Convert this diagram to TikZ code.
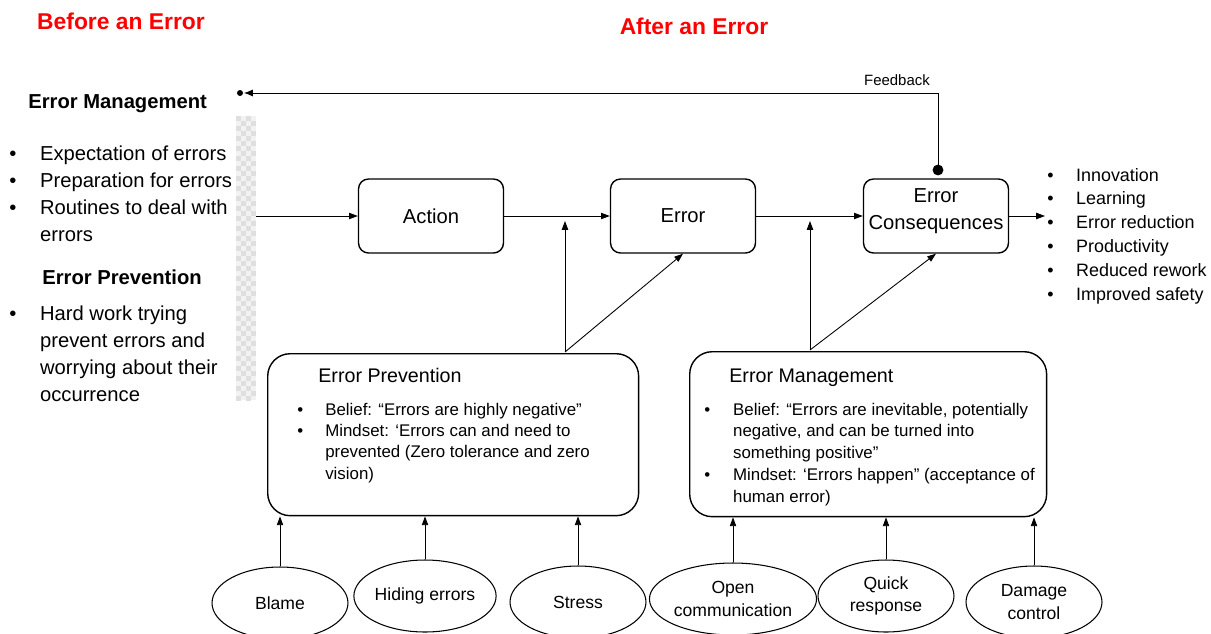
\documentclass[tikz,border=0pt]{standalone}
\usepackage{fontspec}
\setmainfont{Liberation Sans}
\usetikzlibrary{arrows.meta,shapes.geometric}
\begin{document}
\begin{tikzpicture}
  [x=0.02cm,y=-0.02cm,>={Triangle[length=5pt,width=3.6pt]},
   box/.style={draw,line width=0.8pt,rounded corners=0.2cm,minimum width=2.9cm,minimum height=1.48cm,inner sep=1pt,align=center,font=\fontsize{11.5}{15.3}\selectfont},
   bigbox/.style={draw,line width=0.8pt,rounded corners=0.45cm,anchor=north west,inner sep=0pt},
   cause/.style={ellipse,draw,line width=0.6pt,minimum width=2.72cm,minimum height=1.44cm,inner sep=0pt,align=center,font=\fontsize{10}{13}\selectfont},
   title/.style={font=\fontsize{13}{15}\selectfont\bfseries,text=red},
   head/.style={anchor=base west,inner sep=0pt,font=\fontsize{11.5}{15.3}\selectfont\bfseries},
   list/.style={anchor=base west,inner sep=0pt},
   link/.style={->,line width=0.5pt}]
  \useasboundingbox (0,0) rectangle (1211,633);
  % before / after
  \node[title,name=before] at (121,21) {Before an Error};
  \node[title,name=after] at (694,26) {After an Error};
  % left column
  \node[head,name=emhead] at (28,108) {Error Management};
  \node[list,name=emlist,font=\fontsize{11.5}{15.5}\selectfont] at (9,160) {\begin{tabular}[t]{@{}p{17.5pt}@{}l@{}}
    \textbullet & Expectation of errors\\
    \textbullet & Preparation for errors\\
    \textbullet & Routines to deal with\\
                & errors
  \end{tabular}};
  \node[head,name=ephead] at (42,284) {Error Prevention};
  \node[list,name=eplist,font=\fontsize{11.5}{15.5}\selectfont] at (9,320) {\begin{tabular}[t]{@{}p{17.5pt}@{}l@{}}
    \textbullet & Hard work trying\\
                & prevent errors and\\
                & worrying about their\\
                & occurrence
  \end{tabular}};
  % checkered bar
  \fill[gray!10] (236,116) rectangle (256,400);
  \foreach \j in {0,...,56}{
    \pgfmathtruncatemacro\off{mod(\j,2)*5}
    \foreach \i in {0,10}
      \fill[gray!25] (236+\i+\off,116+5*\j) rectangle ++(5,5);
  }
  % chain
  \node[box,name=action] at (431,216) {Action};
  \node[box,name=error] at (683,216) {Error};
  \node[box,name=cons,text depth=8pt] at (936,216) {Error\\Consequences};
  \coordinate (in) at (256,216);
  \coordinate (out) at (1045,216);
  \draw[link] (in) -- (action);
  \draw[link] (action) -- (error);
  \draw[link] (error) -- (cons);
  \draw[link] (cons) -- (out);
  \node[list,name=outlist,font=\fontsize{10.2}{13.6}\selectfont] at (1047,181) {\begin{tabular}[t]{@{}p{16.4pt}@{}l@{}}
    \textbullet & Innovation\\
    \textbullet & Learning\\
    \textbullet & Error reduction\\
    \textbullet & Productivity\\
    \textbullet & Reduced rework\\
    \textbullet & Improved safety
  \end{tabular}};
  % feedback
  \coordinate (fbdot) at (938,170);
  \coordinate (fb) at (938,93);
  \coordinate (fbtip) at (244,93);
  \fill (fbdot) circle (3.1pt);
  \fill (240,93) circle (1.7pt);
  \draw[-{Latex[length=5pt,width=4pt]},line width=0.5pt] (fbdot) -- (fb) -- (fbtip);
  \node[font=\fontsize{8.5}{10}\selectfont,name=fblabel] at (897,80) {Feedback};
  % error prevention box
  \node[bigbox,minimum width=7.42cm,minimum height=3.24cm,name=ep] at (267,353) {};
  \node[list,name=eptitle,font=\fontsize{11.2}{14}\selectfont] at (318,382) {Error Prevention};
  \node[list,name=epbelief,font=\fontsize{9.6}{12.2}\selectfont] at (297,415) {\begin{tabular}[t]{@{}p{15.9pt}@{}l@{}}
    \textbullet & Belief: “Errors are highly negative”\\
    \textbullet & Mindset: ‘Errors can and need to\\
                & prevented (Zero tolerance and zero\\
                & vision)
  \end{tabular}};
  % error management box
  \node[bigbox,minimum width=7.14cm,minimum height=3.3cm,name=em] at (689,351) {};
  \node[list,name=emtitle,font=\fontsize{11.2}{14}\selectfont] at (729,382) {Error Management};
  \node[list,name=embelief,font=\fontsize{9.6}{12.5}\selectfont] at (704,415) {\begin{tabular}[t]{@{}p{16.4pt}@{}l@{}}
    \textbullet & Belief: “Errors are inevitable, potentially\\
                & negative, and can be turned into\\
                & something positive”\\
    \textbullet & Mindset: ‘Errors happen” (acceptance of\\
                & human error)
  \end{tabular}};
  % influence on the chain
  \coordinate (epj) at (565,352);
  \coordinate (epup) at (565,221);
  \coordinate (emj) at (810,350);
  \coordinate (emup) at (810,221);
  \draw[link] (epj) -- (epup);
  \draw[link] (epj) -- (error.south);
  \draw[link] (emj) -- (emup);
  \draw[link] (emj) -- (cons.south);
  % causes
  \node[cause,name=blame] at (280,603) {Blame};
  \node[cause,name=hiding] at (425,596) {Hiding errors};
  \node[cause,name=stress] at (578,602) {Stress};
  \node[cause,name=open] at (733,599) {Open\\communication};
  \node[cause,name=quick] at (886,596) {Quick\\response};
  \node[cause,name=damage] at (1034,602) {Damage\\control};
  \foreach \c in {blame,hiding,stress}
    \draw[link] (\c) -- (\c |- ep.south);
  \foreach \c in {open,quick,damage}
    \draw[link] (\c) -- (\c |- em.south);
\end{tikzpicture}
\end{document}
